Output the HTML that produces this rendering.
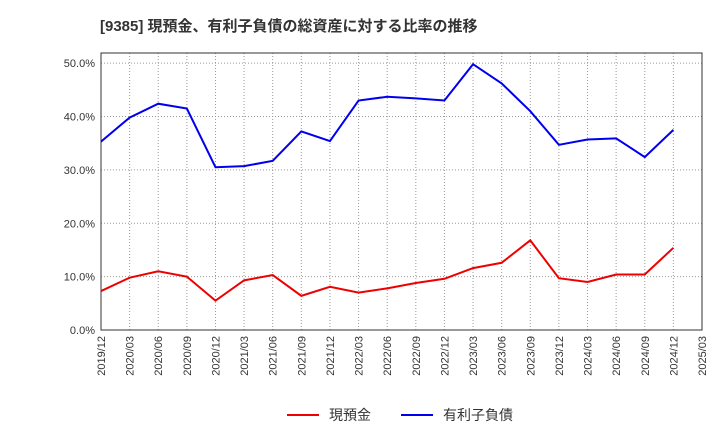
<!DOCTYPE html>
<html><head><meta charset="utf-8"><style>
body{margin:0;background:#fff;font-family:"Liberation Sans","Noto Sans CJK JP",sans-serif;}
</style></head><body>
<svg id="c" width="720" height="440" xmlns="http://www.w3.org/2000/svg" font-family="Liberation Sans, Noto Sans CJK JP, sans-serif"></svg>
<script>
const categories=["2019/12","2020/03","2020/06","2020/09","2020/12","2021/03","2021/06","2021/09","2021/12","2022/03","2022/06","2022/09","2022/12","2023/03","2023/06","2023/09","2023/12","2024/03","2024/06","2024/09","2024/12","2025/03"];
const cashValues=[7.3,9.8,11.0,10.0,5.5,9.3,10.3,6.4,8.1,7.0,7.8,8.8,9.6,11.6,12.6,16.8,9.7,9.0,10.4,10.4,15.4];
const debtValues=[35.3,39.8,42.4,41.5,30.5,30.7,31.7,37.2,35.4,43.0,43.7,43.4,43.0,49.8,46.2,41.0,34.7,35.7,35.9,32.4,37.5];
const yTicks=[0,10,20,30,40,50];
const seriesNames=["現預金","有利子負債"];
const svg=document.getElementById('c');const NS="http://www.w3.org/2000/svg";
const L=101,R=702,T=53,B=330,yMax=51.9;
const x=i=>L+i*(R-L)/(categories.length-1);
const y=v=>B-v/yMax*(B-T);
function el(t,a,p){const e=document.createElementNS(NS,t);for(const k in a)e.setAttribute(k,a[k]);(p||svg).appendChild(e);return e;}
let t=el('text',{x:100,y:31,'font-size':15,'font-weight':'bold',fill:'#333'});t.textContent="[9385]  現預金、有利子負債の総資産に対する比率の推移";

categories.forEach((c,i)=>{const g=el('line',{x1:x(i),x2:x(i),y1:T,y2:B,stroke:'#999','stroke-dasharray':'1,2'});

const lb=el('text',{transform:`translate(${x(i)+4},${B+6}) rotate(-90)`,'text-anchor':'end','font-size':11,fill:'#333'});lb.textContent=c;
});
yTicks.forEach(v=>{const g=el('line',{x1:L,x2:R,y1:y(v),y2:y(v),stroke:'#999','stroke-dasharray':'1,2'});

const lb=el('text',{x:L-6,y:y(v)+4,'text-anchor':'end','font-size':11,fill:'#333'});lb.textContent=v.toFixed(1)+"%";
});
const fr=el('rect',{x:L,y:T,width:R-L,height:B-T,fill:'none',stroke:'#333'});

function line(vals,col,name){const p=el('polyline',{points:vals.map((v,i)=>x(i)+','+y(v)).join(' '),fill:'none',stroke:col,'stroke-width':2});
}
line(cashValues,'#e00','cash-line');line(debtValues,'#00e','debt-line');
[[287,'#e00',seriesNames[0],'legend-cash'],[401,'#00e',seriesNames[1],'legend-debt']].forEach(([lx,col,n,dn])=>{
const g=el('g',{});
el('line',{x1:lx,x2:lx+32,y1:415,y2:415,stroke:col,'stroke-width':2},g);
const tx=el('text',{x:lx+42,y:420,'font-size':14,fill:'#333'},g);tx.textContent=n;});
</script></body></html>
